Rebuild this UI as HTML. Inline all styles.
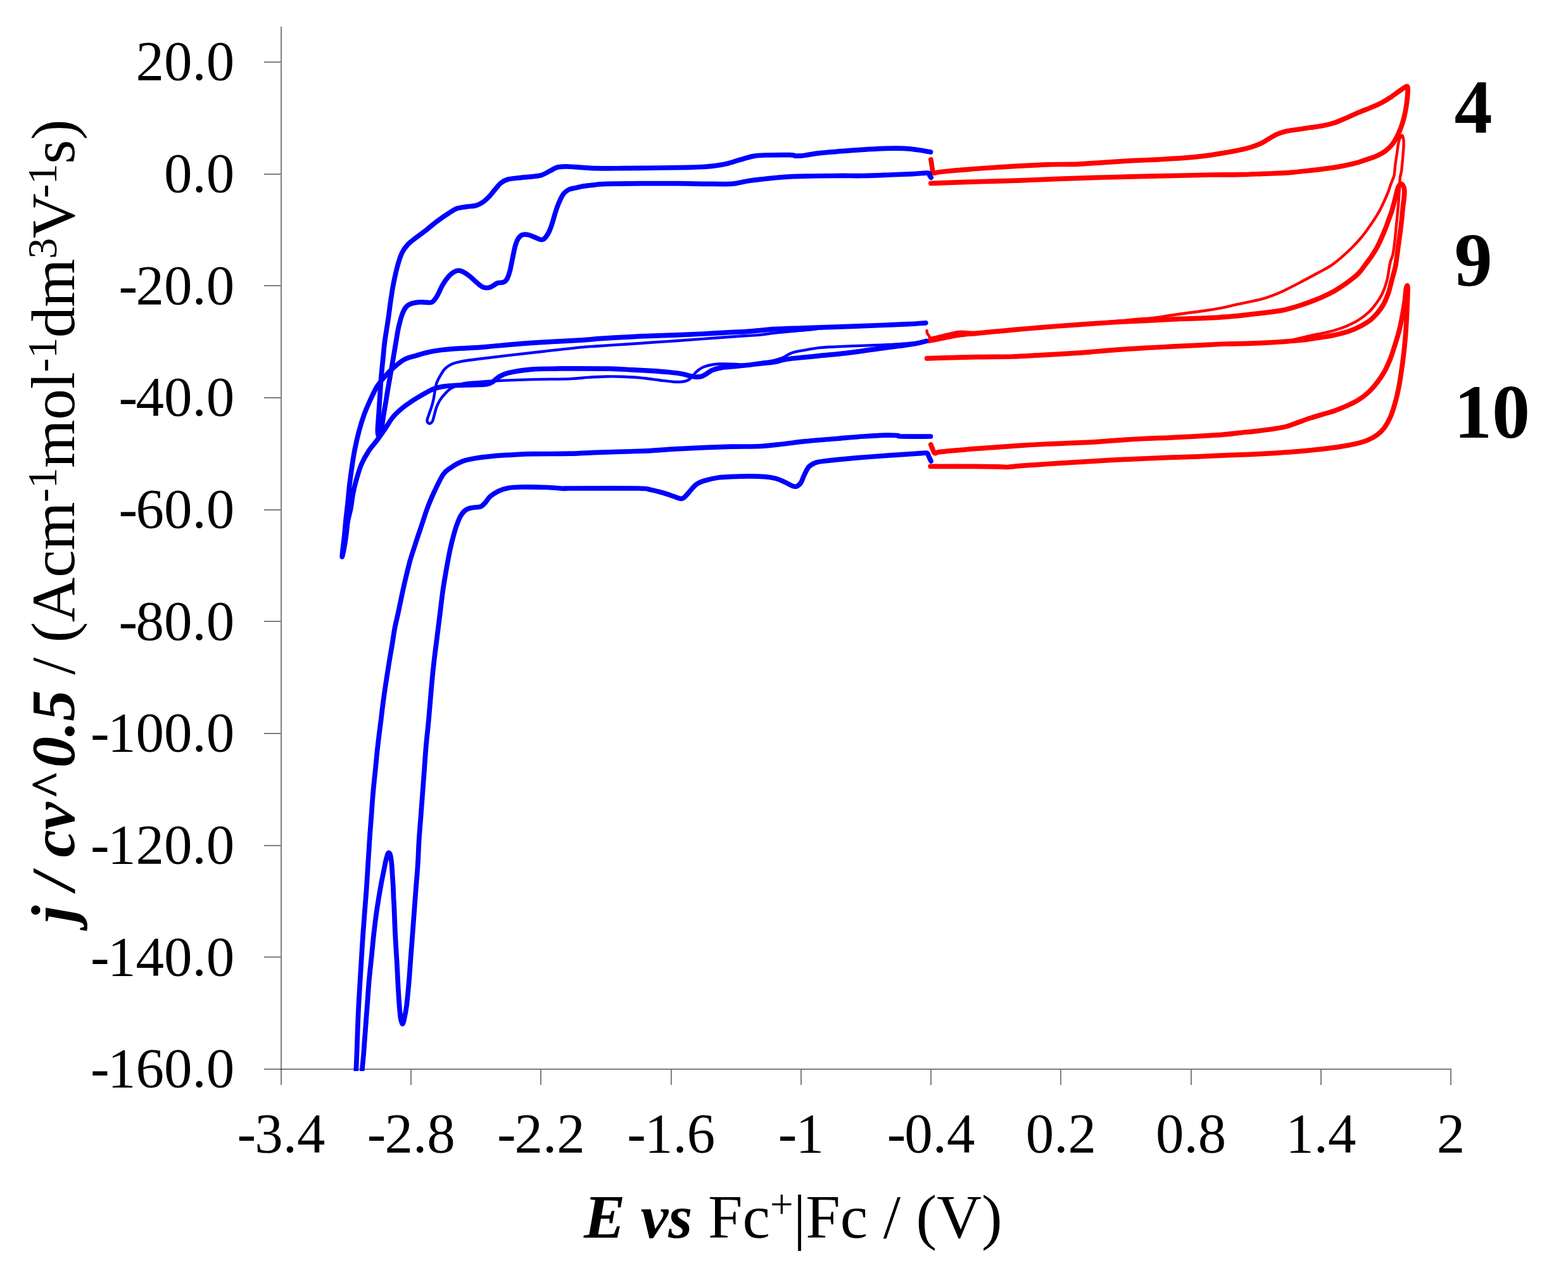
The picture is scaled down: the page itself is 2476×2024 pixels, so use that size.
<!DOCTYPE html><html><head><meta charset="utf-8"><title>Cyclic voltammograms</title>
<style>html,body{margin:0;padding:0;background:#fff;}body{width:2476px;height:2024px;overflow:hidden;}svg{display:block;}text{font-family:"Liberation Serif",serif;fill:#000;}</style></head><body>
<svg width="2476" height="2024" viewBox="0 0 2476 2024">
<rect width="2476" height="2024" fill="#fff"/>
<g fill="#000" fill-opacity="0.5" shape-rendering="crispEdges">
<rect x="443" y="42" width="2" height="1671"/>
<rect x="417" y="1687" width="1875" height="2"/>
<rect x="417" y="97" width="26" height="2"/>
<rect x="417" y="274" width="26" height="2"/>
<rect x="417" y="450" width="26" height="2"/>
<rect x="417" y="627" width="26" height="2"/>
<rect x="417" y="804" width="26" height="2"/>
<rect x="417" y="980" width="26" height="2"/>
<rect x="417" y="1157" width="26" height="2"/>
<rect x="417" y="1334" width="26" height="2"/>
<rect x="417" y="1510" width="26" height="2"/>
<rect x="648" y="1689" width="2" height="24"/>
<rect x="853" y="1689" width="2" height="24"/>
<rect x="1059" y="1689" width="2" height="24"/>
<rect x="1264" y="1689" width="2" height="24"/>
<rect x="1469" y="1689" width="2" height="24"/>
<rect x="1674" y="1689" width="2" height="24"/>
<rect x="1880" y="1689" width="2" height="24"/>
<rect x="2085" y="1689" width="2" height="24"/>
<rect x="2290" y="1689" width="2" height="24"/>
</g>
<defs><clipPath id="plot"><rect x="380" y="0" width="2000" height="1691"/></clipPath></defs>
<g fill="none" stroke-linejoin="round" stroke-linecap="round" clip-path="url(#plot)">
<path d="M1469.9,252.0 C1470.2,253.4 1470.9,257.4 1471.3,260.5 C1471.8,263.6 1472.3,268.3 1472.7,270.4 C1473.2,272.5 1472.2,273.0 1474.2,273.2 C1476.2,273.4 1475.9,272.5 1484.7,271.5 C1493.6,270.6 1513.0,268.7 1527.1,267.6 C1541.2,266.4 1555.4,265.4 1569.5,264.5 C1583.6,263.5 1597.7,262.7 1611.9,261.9 C1626.0,261.1 1639.2,260.3 1654.2,259.8 C1669.3,259.3 1687.3,259.7 1702.4,259.1 C1717.5,258.5 1730.6,257.2 1744.7,256.3 C1758.9,255.4 1773.0,254.5 1787.1,253.7 C1801.2,253.0 1815.4,252.5 1829.5,251.8 C1843.6,251.0 1860.1,250.1 1871.9,249.2 C1883.6,248.3 1890.7,247.6 1900.1,246.4 C1909.5,245.2 1919.0,243.7 1928.4,242.1 C1937.8,240.6 1948.7,238.7 1956.5,237.1 C1964.3,235.5 1969.7,234.1 1975.3,232.4 C1981.0,230.7 1985.7,229.0 1990.4,226.8 C1995.1,224.6 1999.2,221.7 2003.6,219.2 C2008.0,216.7 2012.1,213.7 2016.8,211.7 C2021.5,209.7 2026.2,208.2 2031.8,207.0 C2037.5,205.7 2044.4,205.1 2050.7,204.2 C2056.9,203.2 2063.2,202.3 2069.5,201.3 C2075.8,200.4 2082.0,199.8 2088.3,198.5 C2094.6,197.3 2100.9,195.8 2107.2,193.8 C2113.4,191.8 2119.7,188.9 2126.0,186.3 C2132.3,183.6 2138.5,180.5 2144.8,177.8 C2151.1,175.1 2157.4,172.9 2163.7,170.3 C2169.9,167.6 2176.8,164.8 2182.5,161.8 C2188.1,158.8 2192.8,155.5 2197.6,152.4 C2202.3,149.2 2206.8,145.6 2210.7,143.0 C2214.7,140.3 2219.1,136.7 2221.1,136.4 C2223.1,136.1 2222.8,137.6 2223.0,141.1 C2223.1,144.5 2222.7,151.3 2222.0,157.1 C2221.4,162.9 2220.5,169.6 2219.2,175.9 C2218.0,182.2 2216.4,188.8 2214.5,194.7 C2212.6,200.7 2210.4,206.4 2207.9,211.7 C2205.4,217.0 2202.7,222.4 2199.4,226.8 C2196.1,231.2 2192.5,234.8 2188.1,238.1 C2183.7,241.4 2178.7,244.0 2173.1,246.5 C2167.4,249.0 2160.5,251.1 2154.2,253.1 C2148.0,255.2 2143.3,256.9 2135.4,258.8 C2127.6,260.7 2118.1,262.7 2107.2,264.4 C2096.2,266.2 2082.0,267.7 2069.5,269.1 C2056.9,270.5 2044.4,272.0 2031.8,272.9 C2019.3,273.8 2006.7,273.9 1994.2,274.4 C1981.6,274.9 1969.8,275.5 1956.5,275.7 C1943.2,276.0 1928.3,275.8 1914.2,276.0 C1900.1,276.3 1886.0,276.7 1871.9,277.0 C1857.7,277.3 1843.6,277.6 1829.5,277.9 C1815.4,278.2 1801.2,278.5 1787.1,278.9 C1773.0,279.2 1758.9,279.6 1744.7,280.0 C1730.6,280.4 1717.5,280.9 1702.4,281.4 C1687.3,281.9 1669.3,282.5 1654.2,283.1 C1639.2,283.7 1626.0,284.3 1611.9,284.8 C1597.7,285.3 1583.6,285.8 1569.5,286.2 C1555.4,286.6 1541.2,286.9 1527.1,287.3 C1513.0,287.8 1494.3,288.4 1484.7,288.8 C1475.2,289.1 1472.4,289.3 1469.9,289.5" stroke="#ff0000" stroke-width="7.7"/>
<path d="M1463.6,522.0 C1463.7,522.7 1463.7,524.9 1464.3,526.3 C1464.9,527.7 1466.4,529.1 1467.1,530.5 C1467.8,531.9 1467.9,534.2 1468.5,534.7 C1469.1,535.3 1466.7,534.6 1470.6,533.6 C1474.5,532.6 1485.2,530.2 1491.8,528.7 C1498.4,527.1 1505.5,525.3 1510.2,524.4 C1514.9,523.6 1514.9,523.7 1520.1,523.7 C1525.2,523.8 1530.6,525.2 1541.2,524.9 C1551.8,524.5 1569.5,522.9 1583.6,521.8 C1597.7,520.6 1611.9,519.3 1626.0,518.1 C1640.1,516.9 1652.3,516.0 1668.4,514.7 C1684.4,513.4 1706.3,511.8 1722.4,510.5 C1738.4,509.2 1753.0,508.0 1764.7,507.0 C1776.5,505.9 1783.6,505.0 1793.0,504.2 C1802.4,503.3 1811.8,503.1 1821.2,502.0 C1830.7,501.0 1840.1,499.2 1849.5,497.8 C1858.9,496.4 1868.3,495.1 1877.7,493.8 C1887.2,492.5 1896.6,491.5 1906.0,490.0 C1915.4,488.6 1926.0,486.7 1934.2,485.1 C1942.5,483.4 1945.4,482.4 1955.4,480.1 C1965.4,477.9 1983.0,474.7 1994.2,471.6 C2005.3,468.4 2013.0,465.3 2022.4,461.2 C2031.8,457.1 2041.2,451.9 2050.7,447.1 C2060.1,442.2 2070.3,436.7 2078.9,432.0 C2087.5,427.3 2095.3,423.5 2102.4,418.8 C2109.4,414.1 2115.7,408.4 2121.2,403.7 C2126.7,399.0 2130.9,394.9 2135.3,390.5 C2139.7,386.1 2143.8,381.7 2147.6,377.3 C2151.3,373.0 2154.8,368.4 2157.9,364.2 C2161.1,359.9 2164.0,355.4 2166.4,351.9 C2168.8,348.5 2170.2,346.4 2172.1,343.4 C2173.9,340.5 2175.8,337.5 2177.7,334.0 C2179.6,330.6 2181.5,326.7 2183.4,322.7 C2185.2,318.8 2187.4,314.1 2189.0,310.5 C2190.6,306.9 2191.7,304.1 2192.8,301.1 C2193.9,298.1 2194.6,295.4 2195.6,292.6 C2196.6,289.8 2197.9,286.9 2198.9,284.1 C2199.9,281.3 2201.0,279.6 2201.7,275.6 C2202.4,271.7 2202.5,266.3 2203.2,260.7 C2203.9,255.0 2205.1,248.1 2206.0,241.8 C2207.0,235.5 2207.6,227.7 2208.9,223.0 C2210.1,218.3 2212.3,213.9 2213.6,213.6 C2214.8,213.3 2215.9,218.0 2216.4,221.1 C2216.9,224.2 2216.6,227.4 2216.4,232.4 C2216.1,237.4 2215.4,245.0 2214.9,251.2 C2214.3,257.5 2213.7,265.1 2213.0,270.1 C2212.3,275.1 2211.1,277.4 2210.7,281.3 C2210.2,285.2 2210.4,289.1 2210.2,293.5 C2210.0,297.9 2209.6,302.2 2209.2,307.7 C2208.9,313.2 2208.4,320.2 2207.8,326.5 C2207.3,332.8 2206.6,339.1 2206.0,345.3 C2205.3,351.6 2204.7,357.9 2204.1,364.2 C2203.4,370.4 2203.0,376.7 2202.2,383.0 C2201.4,389.3 2200.5,396.8 2199.4,401.8 C2198.3,406.8 2196.5,409.7 2195.6,413.1 C2194.7,416.6 2194.6,417.5 2193.7,422.5 C2192.8,427.6 2191.9,436.4 2190.0,443.3 C2188.1,450.2 2185.3,458.1 2182.5,464.0 C2179.7,470.0 2176.5,474.4 2173.1,479.1 C2169.6,483.8 2166.5,487.9 2161.8,492.3 C2157.1,496.7 2150.8,501.7 2144.8,505.5 C2138.9,509.2 2132.3,512.2 2126.0,514.9 C2119.7,517.5 2113.4,519.6 2107.2,521.5 C2100.9,523.4 2094.6,524.8 2088.3,526.2 C2082.0,527.6 2078.9,527.9 2069.5,529.9 C2060.1,532.0 2041.2,536.7 2031.8,538.4 C2022.4,540.1 2022.4,539.7 2013.0,540.3 C2003.6,540.9 1988.5,541.7 1975.3,542.2 C1962.2,542.6 1948.1,542.5 1934.2,543.0 C1920.3,543.5 1906.0,544.4 1891.9,545.1 C1877.7,545.8 1863.6,546.5 1849.5,547.2 C1835.4,547.9 1821.2,548.5 1807.1,549.4 C1793.0,550.2 1778.9,551.1 1764.7,552.2 C1750.6,553.2 1733.2,554.8 1722.4,555.7 C1711.6,556.6 1713.7,556.5 1700.0,557.3 C1686.3,558.2 1657.2,559.9 1640.1,560.9 C1623.1,561.8 1614.2,562.5 1597.7,563.0 C1581.3,563.5 1560.1,563.3 1541.2,563.7 C1522.4,564.1 1497.7,564.8 1484.7,565.1 C1471.8,565.5 1467.1,565.7 1463.6,565.8" stroke="#ff0000" stroke-width="4.4"/>
<path d="M1466.4,538.3 C1469.4,537.7 1477.0,536.3 1484.7,534.7 C1492.5,533.2 1503.6,530.5 1513.0,529.1 C1522.4,527.7 1529.5,527.4 1541.2,526.3 C1553.0,525.1 1569.5,523.6 1583.6,522.3 C1597.7,521.0 1611.9,519.7 1626.0,518.5 C1640.1,517.3 1652.3,516.2 1668.4,515.0 C1684.4,513.8 1706.3,512.3 1722.4,511.2 C1738.4,510.1 1750.6,509.2 1764.7,508.4 C1778.9,507.6 1795.3,506.9 1807.1,506.3 C1818.9,505.7 1826.0,505.3 1835.4,504.9 C1844.8,504.4 1854.2,503.8 1863.6,503.4 C1873.0,503.1 1882.4,503.1 1891.9,502.7 C1901.3,502.4 1910.7,501.9 1920.1,501.3 C1929.5,500.7 1938.4,500.2 1948.4,499.2 C1958.3,498.3 1967.7,497.1 1980.0,495.7 C1992.3,494.2 2010.6,492.5 2022.4,490.4 C2034.2,488.3 2042.8,485.2 2050.7,482.9 C2058.5,480.5 2063.2,478.6 2069.5,476.3 C2075.8,473.9 2082.0,471.6 2088.3,468.7 C2094.6,465.9 2100.9,462.9 2107.2,459.3 C2113.4,455.7 2119.7,451.6 2126.0,447.1 C2132.3,442.5 2139.8,436.9 2144.8,432.0 C2149.8,427.1 2152.4,422.6 2156.0,417.8 C2159.6,413.1 2163.3,408.4 2166.4,403.7 C2169.5,399.0 2172.2,394.6 2174.9,389.6 C2177.5,384.6 2180.1,378.9 2182.4,373.6 C2184.8,368.2 2187.1,362.4 2189.0,357.6 C2190.9,352.7 2192.3,348.3 2193.7,344.4 C2195.1,340.5 2196.2,338.0 2197.5,334.0 C2198.7,330.1 2200.1,324.9 2201.2,320.8 C2202.3,316.8 2203.2,313.0 2204.1,309.5 C2204.9,306.1 2205.6,302.8 2206.4,300.1 C2207.2,297.5 2207.8,295.2 2208.8,293.5 C2209.8,291.9 2211.3,290.1 2212.5,290.2 C2213.8,290.4 2215.4,292.5 2216.3,294.5 C2217.2,296.4 2217.6,298.6 2217.7,302.0 C2217.8,305.5 2217.2,311.1 2216.8,315.2 C2216.4,319.3 2215.8,322.3 2215.4,326.5 C2214.9,330.7 2214.4,335.9 2214.0,340.6 C2213.5,345.3 2213.1,350.0 2212.5,354.7 C2212.0,359.5 2211.3,364.2 2210.7,368.9 C2210.0,373.6 2209.4,378.3 2208.8,383.0 C2208.1,387.7 2207.5,392.4 2206.9,397.1 C2206.3,401.8 2205.6,407.0 2205.0,411.2 C2204.4,415.5 2204.4,417.2 2203.1,422.5 C2201.9,427.9 2199.4,436.4 2197.6,443.3 C2195.7,450.2 2194.1,457.8 2191.9,464.0 C2189.7,470.3 2187.2,476.0 2184.4,481.0 C2181.5,486.0 2178.4,490.1 2175.0,494.2 C2171.5,498.2 2168.0,502.0 2163.7,505.5 C2159.3,508.9 2153.9,512.1 2148.6,514.9 C2143.3,517.7 2138.5,520.1 2131.6,522.4 C2124.7,524.8 2115.9,527.1 2107.2,529.0 C2098.4,530.9 2088.3,532.3 2078.9,533.7 C2069.5,535.1 2061.6,536.4 2050.7,537.5 C2039.7,538.6 2025.5,539.5 2013.0,540.3 C2000.4,541.1 1988.5,541.7 1975.3,542.2 C1962.2,542.6 1948.1,542.5 1934.2,543.0 C1920.3,543.5 1906.0,544.4 1891.9,545.1 C1877.7,545.8 1863.6,546.5 1849.5,547.2 C1835.4,547.9 1821.2,548.5 1807.1,549.4 C1793.0,550.2 1778.9,551.1 1764.7,552.2 C1750.6,553.2 1733.2,554.8 1722.4,555.7 C1711.6,556.6 1713.7,556.5 1700.0,557.3 C1686.3,558.2 1657.2,559.9 1640.1,560.9 C1623.1,561.8 1614.2,562.5 1597.7,563.0 C1581.3,563.5 1560.1,563.3 1541.2,563.7 C1522.4,564.1 1497.7,564.8 1484.7,565.1 C1471.8,565.5 1467.1,565.7 1463.6,565.8" stroke="#ff0000" stroke-width="7.7"/>
<path d="M1469.9,701.9 C1470.4,703.1 1471.7,706.9 1472.7,709.2 C1473.8,711.5 1474.3,714.9 1476.3,715.6 C1478.3,716.3 1476.3,714.5 1484.7,713.4 C1493.2,712.4 1513.0,710.7 1527.1,709.5 C1541.2,708.3 1555.4,707.4 1569.5,706.4 C1583.6,705.3 1597.7,704.2 1611.9,703.3 C1626.0,702.4 1635.8,701.9 1654.2,701.0 C1672.7,700.2 1704.0,699.2 1722.4,698.2 C1740.8,697.2 1750.6,696.0 1764.7,695.1 C1778.9,694.1 1793.0,693.2 1807.1,692.5 C1821.2,691.8 1835.4,691.5 1849.5,690.8 C1863.6,690.2 1877.7,689.6 1891.9,688.7 C1906.0,687.9 1923.5,686.8 1934.2,685.9 C1945.0,685.0 1948.1,684.3 1956.5,683.4 C1964.9,682.5 1975.3,681.7 1984.7,680.6 C1994.2,679.5 2005.1,678.1 2013.0,676.8 C2020.8,675.6 2025.5,674.8 2031.8,673.1 C2038.1,671.3 2044.4,668.7 2050.7,666.5 C2056.9,664.3 2063.2,661.9 2069.5,659.9 C2075.8,657.8 2082.0,656.1 2088.3,654.2 C2094.6,652.4 2100.9,650.8 2107.2,648.6 C2113.4,646.4 2119.7,643.9 2126.0,641.1 C2132.3,638.2 2138.9,635.4 2144.8,631.6 C2150.8,627.9 2156.7,623.2 2161.8,618.5 C2166.8,613.7 2170.9,608.7 2175.0,603.4 C2179.0,598.1 2182.8,592.7 2186.3,586.4 C2189.7,580.2 2192.8,572.9 2195.7,565.7 C2198.5,558.5 2200.8,550.7 2203.2,543.1 C2205.6,535.6 2207.9,528.1 2209.8,520.5 C2211.7,513.0 2213.1,505.5 2214.5,497.9 C2215.9,490.4 2217.3,482.2 2218.3,475.3 C2219.2,468.4 2219.5,460.6 2220.2,456.5 C2220.8,452.4 2221.6,450.8 2222.0,450.8 C2222.5,450.8 2222.9,452.4 2223.0,456.5 C2223.0,460.6 2222.7,467.5 2222.4,475.3 C2222.1,483.2 2221.6,494.2 2221.1,503.6 C2220.6,513.0 2220.0,522.4 2219.2,531.8 C2218.4,541.2 2217.5,550.7 2216.4,560.1 C2215.3,569.5 2213.9,579.8 2212.6,588.3 C2211.4,596.8 2210.4,603.1 2208.9,610.9 C2207.3,618.8 2205.4,627.6 2203.2,635.4 C2201.0,643.3 2198.5,651.4 2195.7,658.0 C2192.8,664.6 2189.7,670.2 2186.3,675.0 C2182.8,679.7 2179.3,683.0 2175.0,686.3 C2170.6,689.5 2165.5,692.4 2159.9,694.7 C2154.2,697.1 2148.3,698.7 2141.1,700.4 C2133.8,702.1 2125.4,703.7 2116.6,705.1 C2107.8,706.5 2099.3,707.6 2088.3,708.9 C2077.3,710.1 2063.2,711.5 2050.7,712.6 C2038.1,713.7 2025.5,714.7 2013.0,715.4 C2000.4,716.2 1988.5,716.8 1975.3,717.3 C1962.2,717.9 1948.1,718.2 1934.2,718.8 C1920.3,719.4 1906.0,720.2 1891.9,720.8 C1877.7,721.4 1863.6,721.7 1849.5,722.2 C1835.4,722.7 1821.2,723.4 1807.1,724.0 C1793.0,724.7 1778.9,725.2 1764.7,725.9 C1750.6,726.6 1733.2,727.6 1722.4,728.3 C1711.6,728.9 1711.4,729.0 1700.0,729.7 C1688.6,730.4 1668.9,731.6 1654.2,732.5 C1639.5,733.5 1622.5,734.5 1611.9,735.3 C1601.3,736.2 1596.6,737.2 1590.7,737.5 C1584.8,737.7 1587.1,736.9 1576.6,736.8 C1566.0,736.6 1545.0,736.4 1527.1,736.3 C1509.2,736.3 1478.9,736.3 1469.2,736.3" stroke="#ff0000" stroke-width="7.7"/>
<path d="M1470.3,280.3 C1469.9,279.8 1469.0,278.6 1468.1,277.5 C1467.3,276.3 1469.8,273.7 1465.3,273.2 C1460.8,272.7 1451.2,274.2 1441.3,274.6 C1431.4,275.1 1418.9,275.6 1406.0,276.0 C1393.0,276.5 1377.7,277.2 1363.6,277.5 C1349.5,277.7 1336.5,277.3 1321.2,277.5 C1305.9,277.6 1285.9,277.8 1271.8,278.2 C1257.7,278.5 1248.3,278.8 1236.5,279.6 C1224.7,280.4 1210.2,282.1 1201.2,283.1 C1192.2,284.1 1188.0,284.6 1182.5,285.5 C1177.0,286.3 1173.1,287.5 1168.4,288.3 C1163.7,289.1 1162.7,290.0 1154.2,290.4 C1145.8,290.7 1131.6,290.5 1117.5,290.4 C1103.4,290.3 1086.9,289.8 1069.5,289.7 C1052.1,289.6 1031.8,289.6 1013.0,289.7 C994.2,289.8 968.7,290.0 956.5,290.4 C944.3,290.7 945.4,291.2 939.5,291.8 C933.7,292.4 926.4,293.1 921.2,293.9 C916.0,294.8 912.3,295.9 908.5,296.8 C904.7,297.6 901.6,297.6 898.5,299.1 C895.5,300.6 892.6,302.5 890.1,305.7 C887.5,308.8 885.5,313.4 883.5,317.9 C881.4,322.5 879.7,327.3 877.8,333.0 C875.9,338.6 874.0,346.2 872.2,351.8 C870.3,357.5 868.7,362.7 866.5,366.9 C864.3,371.1 861.2,375.4 859.0,377.3 C856.8,379.1 855.8,378.7 853.3,378.2 C850.8,377.7 847.1,375.7 843.9,374.4 C840.8,373.2 837.6,371.3 834.5,370.7 C831.4,370.0 827.8,369.7 825.1,370.7 C822.4,371.6 820.4,373.5 818.5,376.3 C816.6,379.1 815.2,382.9 813.8,387.6 C812.4,392.3 811.4,398.0 810.0,404.6 C808.6,411.1 806.9,421.2 805.3,427.2 C803.7,433.1 802.3,437.3 800.6,440.3 C798.9,443.4 797.5,444.5 795.0,445.6 C792.4,446.7 788.7,445.8 785.5,446.9 C782.4,448.1 778.9,451.3 776.1,452.6 C773.3,453.8 771.1,454.5 768.6,454.5 C766.1,454.5 763.9,454.1 761.1,452.6 C758.2,451.0 754.8,447.7 751.6,445.0 C748.5,442.4 745.7,439.2 742.2,436.6 C738.8,433.9 734.1,430.6 730.9,429.0 C727.8,427.5 725.9,427.0 723.4,427.2 C720.9,427.3 718.4,428.4 715.9,430.0 C713.3,431.6 711.1,433.3 708.3,436.6 C705.5,439.9 702.0,444.4 698.9,449.8 C695.8,455.1 692.3,464.0 689.5,468.6 C686.7,473.1 684.8,475.6 682.0,477.1 C679.1,478.5 676.0,477.4 672.5,477.4 C669.1,477.4 665.3,476.7 661.2,477.1 C657.2,477.5 651.5,478.5 648.1,479.9 C644.6,481.3 642.7,482.7 640.5,485.5 C638.3,488.4 636.8,491.5 634.9,496.8 C633.0,502.2 631.0,509.6 629.2,517.6 C627.5,525.5 626.1,535.3 624.5,544.5 C623.0,553.7 621.5,562.7 619.8,572.7 C618.1,582.8 615.9,594.7 614.2,604.7 C612.4,614.8 610.9,624.5 609.5,633.0 C608.0,641.5 606.9,647.7 605.7,655.6 C604.4,663.4 603.2,674.6 601.9,680.1 C600.7,685.6 599.1,688.5 598.2,688.5 C597.2,688.5 596.3,686.2 596.3,680.1 C596.3,674.0 597.5,661.2 598.2,651.8 C598.8,642.4 599.4,633.0 600.0,623.6 C600.7,614.2 601.1,604.7 601.9,595.3 C602.7,585.9 603.8,576.5 604.7,567.1 C605.7,557.7 606.2,549.6 607.6,538.8 C609.0,528.1 611.7,513.3 613.2,502.5 C614.8,491.7 615.6,483.7 617.0,474.2 C618.4,464.8 619.8,455.4 621.7,446.0 C623.6,436.6 626.1,425.6 628.3,417.7 C630.5,409.9 632.2,404.2 634.9,398.9 C637.5,393.6 640.8,389.5 644.3,385.7 C647.7,382.0 651.2,379.8 655.6,376.3 C660.0,372.9 665.0,369.4 670.7,365.0 C676.3,360.6 683.2,354.7 689.5,349.9 C695.8,345.2 703.0,340.2 708.3,336.8 C713.7,333.3 716.8,331.0 721.5,329.2 C726.2,327.5 731.6,327.2 736.6,326.4 C741.6,325.6 747.2,325.8 751.6,324.5 C756.0,323.3 759.5,321.2 762.9,318.9 C766.4,316.5 769.2,313.7 772.4,310.4 C775.5,307.1 778.6,302.7 781.8,299.1 C784.9,295.5 787.7,291.4 791.2,288.7 C794.6,286.1 797.5,284.4 802.5,283.1 C807.5,281.7 815.0,281.4 821.3,280.6 C827.6,279.9 834.5,279.4 840.2,278.8 C845.8,278.1 850.5,278.0 855.2,276.5 C859.9,275.0 864.3,271.9 868.4,269.9 C872.5,267.9 875.6,265.4 879.7,264.3 C883.8,263.1 888.2,263.0 892.9,262.9 C897.6,262.8 900.2,263.2 907.9,263.7 C915.7,264.1 926.7,265.3 939.5,265.7 C952.3,266.0 967.8,265.8 984.7,265.7 C1001.7,265.6 1024.3,265.2 1041.2,265.0 C1058.2,264.7 1074.7,264.5 1086.4,264.3 C1098.2,264.0 1105.3,263.6 1111.9,263.3 C1118.5,262.9 1120.1,262.9 1126.0,262.1 C1131.9,261.4 1140.1,260.3 1147.2,258.6 C1154.2,257.0 1161.3,254.3 1168.4,252.3 C1175.4,250.3 1182.9,247.8 1189.5,246.6 C1196.2,245.4 1198.5,245.3 1208.2,245.0 C1218.0,244.7 1239.8,244.5 1247.8,244.7 C1255.8,244.9 1253.0,245.9 1256.3,246.1 C1259.6,246.3 1261.5,246.4 1267.6,245.7 C1273.7,245.0 1284.0,242.9 1293.0,241.9 C1301.9,240.8 1311.8,240.1 1321.2,239.3 C1330.7,238.5 1340.1,237.9 1349.5,237.2 C1358.9,236.5 1369.5,235.8 1377.7,235.4 C1386.0,234.9 1390.7,234.5 1398.9,234.4 C1407.2,234.2 1418.9,234.0 1427.2,234.4 C1435.4,234.7 1441.3,235.6 1448.4,236.5 C1455.4,237.4 1466.0,239.4 1469.5,240.0" stroke="#0000ff" stroke-width="7.7"/>
<path d="M1462.5,538.5 C1460.1,538.9 1455.4,539.8 1448.4,540.6 C1441.3,541.4 1429.5,542.5 1420.1,543.2 C1410.7,543.8 1401.3,544.2 1391.9,544.6 C1382.4,545.0 1375.4,545.1 1363.6,545.6 C1351.8,546.0 1333.0,546.8 1321.2,547.4 C1309.5,548.0 1301.2,548.2 1293.0,549.1 C1284.8,550.0 1278.4,551.5 1271.8,552.6 C1265.2,553.8 1258.2,554.9 1253.4,556.2 C1248.7,557.5 1246.4,559.0 1243.6,560.4 C1240.7,561.8 1240.0,563.2 1236.5,564.6 C1233.0,566.0 1228.3,567.6 1222.4,568.9 C1216.5,570.2 1207.8,571.2 1201.2,572.4 C1194.5,573.6 1189.1,575.7 1182.5,576.2 C1175.8,576.6 1168.4,575.3 1161.3,575.0 C1154.2,574.7 1146.0,574.4 1140.1,574.5 C1134.2,574.5 1130.7,574.7 1126.0,575.5 C1121.3,576.2 1115.6,577.6 1111.9,579.0 C1108.1,580.4 1105.7,582.3 1103.4,583.9 C1101.0,585.6 1099.6,586.9 1097.7,588.9 C1095.9,590.9 1094.2,593.9 1092.1,595.9 C1090.0,597.9 1087.6,599.7 1085.0,600.9 C1082.4,602.0 1080.3,602.4 1076.6,602.7 C1072.8,603.0 1068.3,603.1 1062.4,602.7 C1056.5,602.3 1049.5,601.2 1041.2,600.2 C1033.0,599.2 1022.4,597.5 1013.0,596.6 C1003.6,595.7 994.2,595.2 984.7,594.8 C975.3,594.4 965.9,594.3 956.5,594.5 C947.1,594.7 937.7,595.3 928.2,595.9 C918.8,596.5 914.7,597.5 900.0,598.1 C885.3,598.6 858.9,598.6 840.2,599.1 C821.4,599.6 803.1,600.2 787.4,601.0 C771.7,601.8 756.0,602.9 746.0,603.8 C735.9,604.7 732.8,605.1 727.2,606.6 C721.5,608.2 716.2,610.7 712.1,613.2 C708.0,615.7 705.5,618.7 702.7,621.7 C699.8,624.7 697.3,627.7 695.1,631.1 C692.9,634.6 691.1,638.3 689.5,642.4 C687.9,646.5 686.8,651.8 685.7,655.6 C684.6,659.4 684.2,662.8 682.9,665.0 C681.6,667.2 679.6,668.9 678.2,668.8 C676.8,668.6 674.4,666.9 674.4,664.1 C674.4,661.2 676.9,655.8 678.2,651.8 C679.4,647.9 680.9,644.3 682.0,640.5 C683.1,636.8 684.0,633.0 684.8,629.2 C685.6,625.5 685.9,622.0 686.7,617.9 C687.5,613.8 688.1,608.8 689.5,604.7 C690.9,600.7 692.9,597.2 695.1,593.4 C697.3,589.7 699.5,585.3 702.7,582.1 C705.8,579.0 709.9,576.5 714.0,574.6 C718.1,572.7 720.3,572.2 727.2,570.8 C734.1,569.5 742.8,568.3 755.4,566.7 C768.0,565.1 785.2,563.1 802.5,561.1 C819.7,559.0 839.4,556.8 859.0,554.7 C878.6,552.5 906.1,549.4 920.0,548.1 C933.9,546.7 931.6,547.2 942.4,546.5 C953.2,545.8 970.6,544.6 984.7,543.7 C998.9,542.7 1013.0,541.8 1027.1,540.8 C1041.2,539.9 1055.4,539.0 1069.5,538.0 C1083.6,537.0 1097.7,536.0 1111.9,534.9 C1126.0,533.9 1142.9,532.5 1154.2,531.7 C1165.6,530.9 1172.2,530.5 1180.0,530.0 C1187.8,529.5 1194.1,529.3 1201.2,528.6 C1208.2,527.9 1214.1,526.7 1222.4,525.8 C1230.6,524.8 1241.2,523.8 1250.6,523.0 C1260.0,522.1 1269.5,521.5 1278.9,520.6 C1288.3,519.6 1295.3,518.2 1307.1,517.3 C1318.9,516.4 1335.4,515.8 1349.5,515.2 C1363.6,514.6 1377.7,514.1 1391.9,513.5 C1406.0,512.9 1422.6,512.3 1434.2,511.7 C1445.9,511.1 1457.2,510.1 1461.8,509.8" stroke="#0000ff" stroke-width="4.4"/>
<path d="M1462.5,538.5 C1460.1,539.1 1455.4,540.7 1448.4,542.0 C1441.3,543.3 1431.9,544.6 1420.1,546.3 C1408.3,547.9 1391.9,550.0 1377.7,551.9 C1363.6,553.8 1349.5,555.9 1335.4,557.6 C1321.2,559.2 1307.1,560.4 1293.0,561.8 C1278.9,563.2 1260.0,565.0 1250.6,566.0 C1241.2,567.1 1241.2,567.2 1236.5,568.2 C1231.8,569.1 1228.3,570.8 1222.4,571.7 C1216.5,572.6 1207.8,573.1 1201.2,573.8 C1194.5,574.6 1189.1,575.4 1182.5,576.2 C1175.8,576.9 1168.4,577.6 1161.3,578.3 C1154.2,579.0 1146.0,579.5 1140.1,580.4 C1134.2,581.3 1129.8,582.5 1126.0,583.9 C1122.2,585.3 1120.3,587.2 1117.5,588.9 C1114.7,590.5 1111.9,592.8 1109.0,593.8 C1106.2,594.9 1103.6,595.2 1100.6,595.2 C1097.5,595.2 1094.7,594.6 1090.7,593.8 C1086.7,593.0 1082.4,591.3 1076.6,590.3 C1070.7,589.2 1063.6,588.3 1055.4,587.5 C1047.1,586.6 1036.5,585.9 1027.1,585.3 C1017.7,584.8 1009.5,584.5 998.9,583.9 C988.3,583.4 980.0,582.4 963.6,582.1 C947.1,581.7 914.3,581.8 900.0,581.8 C885.7,581.8 887.8,581.9 877.8,582.1 C867.8,582.4 852.7,582.0 840.2,583.1 C827.6,584.2 811.3,586.7 802.5,588.7 C793.7,590.8 791.5,593.0 787.4,595.3 C783.3,597.7 781.1,601.0 778.0,602.9 C774.9,604.7 773.9,605.8 768.6,606.6 C763.3,607.4 754.5,607.3 746.0,607.6 C737.5,607.9 725.6,608.0 717.7,608.5 C709.9,609.0 704.6,609.5 698.9,610.4 C693.3,611.3 689.8,611.7 683.8,614.2 C677.9,616.7 669.1,622.0 663.1,625.5 C657.2,628.9 653.1,631.4 648.1,634.9 C643.0,638.3 637.7,642.1 633.0,646.2 C628.3,650.3 623.9,654.3 619.8,659.4 C615.7,664.4 612.6,670.3 608.5,676.3 C604.4,682.3 599.7,689.2 595.3,695.1 C590.9,701.1 586.2,705.8 582.1,712.1 C578.1,718.4 574.0,725.6 570.8,732.8 C567.7,740.0 565.5,747.9 563.3,755.4 C561.1,762.9 559.2,770.2 557.7,778.0 C556.1,785.9 555.3,795.1 553.9,802.5 C552.5,809.9 550.6,815.2 549.3,822.6 C548.0,830.0 547.3,839.9 546.3,847.1 C545.3,854.3 544.3,860.6 543.3,865.9 C542.3,871.2 540.6,879.1 540.3,879.1 C539.9,879.1 540.8,871.2 541.4,865.9 C542.0,860.6 542.9,854.3 543.7,847.1 C544.4,839.9 545.0,831.6 545.9,822.6 C546.8,813.6 548.2,802.7 549.2,793.1 C550.2,783.4 550.9,774.2 552.0,764.8 C553.1,755.4 554.4,746.0 555.8,736.6 C557.2,727.2 558.6,717.7 560.5,708.3 C562.4,698.9 564.7,688.9 567.1,680.1 C569.4,671.3 571.8,663.4 574.6,655.6 C577.4,647.7 580.6,640.5 584.0,633.0 C587.5,625.5 591.2,617.0 595.3,610.4 C599.4,603.8 604.1,598.5 608.5,593.4 C612.9,588.4 616.6,584.6 621.7,580.3 C626.7,575.9 632.8,570.4 638.8,567.3 C644.8,564.1 651.4,563.1 657.7,561.2 C663.9,559.4 670.2,557.4 676.5,556.0 C682.8,554.6 689.1,553.6 695.3,552.8 C701.6,551.9 703.2,551.7 714.2,550.9 C725.1,550.1 743.6,549.4 761.2,548.1 C778.9,546.7 802.1,544.2 820.0,542.8 C837.9,541.4 851.7,540.6 868.4,539.6 C885.1,538.6 907.7,537.7 920.0,536.9 C932.3,536.2 931.6,535.7 942.4,534.9 C953.2,534.2 970.6,533.1 984.7,532.4 C998.9,531.6 1013.0,530.8 1027.1,530.3 C1041.2,529.7 1055.4,529.4 1069.5,528.8 C1083.6,528.3 1097.7,527.7 1111.9,527.0 C1126.0,526.3 1142.9,525.2 1154.2,524.6 C1165.6,524.0 1168.6,524.2 1180.0,523.4 C1191.4,522.6 1208.2,520.6 1222.4,519.7 C1236.5,518.8 1250.6,518.5 1264.7,518.0 C1278.9,517.5 1293.0,517.1 1307.1,516.6 C1321.2,516.1 1335.4,515.7 1349.5,515.2 C1363.6,514.7 1377.7,514.1 1391.9,513.5 C1406.0,512.9 1422.6,512.3 1434.2,511.7 C1445.9,511.1 1457.2,510.1 1461.8,509.8" stroke="#0000ff" stroke-width="7.7"/>
<path d="M1470.1,728.0 C1469.4,726.7 1467.5,722.2 1466.4,720.1 C1465.3,718.0 1466.1,716.0 1463.6,715.3 C1461.0,714.6 1460.0,715.3 1450.8,715.9 C1441.7,716.4 1425.0,717.5 1408.5,718.7 C1392.0,719.9 1369.9,721.4 1352.0,722.9 C1334.1,724.5 1312.0,726.7 1301.1,728.0 C1290.3,729.3 1291.0,729.3 1287.0,730.8 C1283.0,732.4 1279.9,733.9 1277.1,737.1 C1274.3,740.2 1272.2,745.5 1270.1,749.8 C1267.9,754.0 1266.5,759.4 1264.4,762.5 C1262.3,765.5 1259.7,767.4 1257.3,768.1 C1255.0,768.8 1253.3,767.9 1250.3,766.7 C1247.2,765.5 1243.2,763.0 1239.0,761.1 C1234.7,759.2 1230.0,756.8 1224.9,755.4 C1219.7,754.0 1215.0,753.2 1207.9,752.6 C1200.8,752.0 1191.4,751.8 1182.5,751.8 C1173.5,751.8 1162.2,752.2 1154.2,752.6 C1146.2,753.0 1141.1,753.1 1134.5,754.0 C1127.9,755.0 1120.3,756.6 1114.7,758.2 C1109.0,759.9 1104.3,761.5 1100.6,763.9 C1096.8,766.3 1095.2,769.1 1092.1,772.4 C1089.0,775.7 1085.0,781.2 1082.2,783.7 C1079.4,786.2 1078.2,787.3 1075.1,787.3 C1072.1,787.3 1068.5,785.2 1063.8,783.7 C1059.1,782.1 1053.0,779.8 1046.9,778.0 C1040.8,776.3 1033.7,774.4 1027.1,773.2 C1020.5,772.0 1028.5,771.3 1007.3,771.0 C986.2,770.6 919.4,770.9 900.0,771.0 C880.6,771.0 896.9,771.7 891.0,771.4 C885.1,771.2 876.2,769.9 864.6,769.5 C853.0,769.1 831.7,768.8 821.3,769.0 C811.0,769.1 808.1,769.4 802.5,770.5 C796.8,771.5 792.1,773.0 787.4,775.2 C782.7,777.4 777.7,780.7 774.2,783.7 C770.8,786.6 769.2,790.4 766.7,793.1 C764.2,795.7 762.6,798.2 759.2,799.7 C755.7,801.1 749.8,800.8 746.0,801.5 C742.2,802.3 739.4,802.6 736.6,804.4 C733.7,806.1 731.2,808.8 729.0,811.9 C726.8,815.0 725.3,818.3 723.4,823.2 C721.4,828.1 719.4,834.0 717.3,841.4 C715.2,848.9 712.7,858.4 710.7,867.8 C708.7,877.2 706.9,887.3 705.0,897.9 C703.2,908.6 701.1,919.9 699.4,931.8 C697.7,943.8 696.3,956.9 694.7,969.5 C693.1,982.0 691.6,994.6 690.0,1007.2 C688.4,1019.7 686.7,1032.3 685.3,1044.8 C683.9,1057.4 682.9,1067.0 681.5,1082.5 C680.1,1098.0 678.2,1122.2 676.8,1137.7 C675.4,1153.1 674.1,1162.8 673.0,1175.3 C671.9,1187.9 671.1,1200.4 670.2,1213.0 C669.3,1225.5 668.3,1238.1 667.4,1250.7 C666.4,1263.2 665.5,1275.8 664.6,1288.3 C663.6,1300.9 662.5,1313.4 661.7,1326.0 C660.9,1338.5 660.6,1351.3 659.8,1363.7 C659.1,1376.0 658.0,1387.7 657.0,1400.0 C656.1,1412.3 655.1,1425.1 654.2,1437.7 C653.3,1450.2 652.3,1462.8 651.4,1475.3 C650.4,1487.9 649.5,1500.4 648.5,1513.0 C647.6,1525.5 646.8,1538.1 645.7,1550.7 C644.6,1563.2 643.2,1578.6 642.0,1588.3 C640.7,1598.1 639.3,1604.3 638.2,1609.0 C637.1,1613.7 636.3,1616.9 635.4,1616.6 C634.4,1616.3 633.3,1611.9 632.5,1607.2 C631.8,1602.4 631.3,1596.2 630.7,1588.3 C630.0,1580.5 629.4,1571.1 628.8,1560.1 C628.1,1549.1 627.7,1536.5 626.9,1522.4 C626.1,1508.3 624.9,1491.0 624.1,1475.3 C623.3,1459.6 622.6,1437.5 622.2,1428.2 C621.8,1419.0 621.8,1424.5 621.6,1420.0 C621.4,1415.5 621.2,1407.6 620.9,1401.3 C620.6,1395.1 620.1,1388.8 619.7,1382.5 C619.3,1376.2 619.0,1369.0 618.4,1363.7 C617.9,1358.3 617.3,1353.4 616.5,1350.5 C615.8,1347.6 614.5,1346.5 613.7,1346.3 C612.9,1346.2 612.6,1347.3 611.8,1349.5 C611.0,1351.8 610.1,1355.0 609.0,1359.9 C607.9,1364.8 606.5,1372.4 605.2,1378.7 C604.0,1385.0 603.2,1387.7 601.5,1397.6 C599.7,1407.4 596.8,1424.7 594.9,1437.7 C593.0,1450.6 591.6,1462.8 590.2,1475.3 C588.8,1487.9 587.7,1500.4 586.4,1513.0 C585.1,1525.5 583.7,1538.1 582.6,1550.7 C581.5,1563.2 580.8,1575.8 579.8,1588.3 C578.9,1600.9 577.9,1613.4 577.0,1626.0 C576.0,1638.5 575.0,1652.8 574.2,1663.7 C573.3,1674.5 572.7,1678.4 571.7,1691.0 C570.8,1703.5 569.0,1731.0 568.5,1739.0" stroke="#0000ff" stroke-width="7.7"/>
<path d="M560.6,1739.0 C560.9,1731.0 561.8,1703.5 562.3,1691.0 C562.8,1678.4 563.0,1674.5 563.4,1663.7 C563.8,1652.8 564.3,1638.5 564.7,1626.0 C565.2,1613.4 565.6,1600.9 566.3,1588.3 C566.9,1575.8 567.8,1563.2 568.5,1550.7 C569.3,1538.1 570.0,1525.5 570.8,1513.0 C571.6,1500.4 572.3,1487.9 573.2,1475.3 C574.1,1462.8 575.1,1450.2 576.0,1437.7 C577.0,1425.1 577.6,1418.6 578.9,1400.0 C580.1,1381.4 582.3,1344.6 583.6,1326.0 C584.8,1307.4 585.5,1300.9 586.4,1288.3 C587.3,1275.8 588.1,1263.2 589.2,1250.7 C590.3,1238.1 591.7,1225.5 593.0,1213.0 C594.2,1200.4 595.3,1187.9 596.8,1175.3 C598.2,1162.8 599.9,1150.2 601.5,1137.7 C603.0,1125.1 604.1,1114.5 606.2,1100.0 C608.2,1085.5 611.5,1064.4 613.7,1050.5 C615.9,1036.6 617.8,1026.3 619.4,1016.6 C621.0,1006.8 621.7,1000.2 623.3,991.9 C624.9,983.5 627.1,975.2 629.0,966.4 C630.9,957.7 632.7,948.3 634.6,939.6 C636.5,930.9 638.2,923.1 640.3,914.2 C642.4,905.2 644.8,895.1 647.3,885.9 C649.9,876.8 653.0,867.8 655.8,859.1 C658.6,850.4 661.2,842.9 664.3,833.7 C667.4,824.5 670.9,813.0 674.2,804.0 C677.5,795.1 679.8,789.1 684.1,780.0 C688.3,770.9 694.9,756.4 699.6,749.4 C704.3,742.5 707.1,741.7 712.3,738.1 C717.5,734.6 724.1,730.7 730.7,728.2 C737.3,725.8 743.6,724.7 751.9,723.3 C760.1,721.9 770.7,720.6 780.1,719.8 C789.5,718.9 798.4,718.6 808.4,718.1 C818.3,717.6 824.7,717.0 840.0,716.7 C855.3,716.4 882.9,716.6 900.0,716.2 C917.1,715.8 928.2,714.9 942.4,714.4 C956.5,713.8 970.6,713.4 984.7,713.0 C998.9,712.5 1013.0,712.3 1027.1,711.6 C1041.2,710.8 1055.4,709.6 1069.5,708.7 C1083.6,707.9 1097.7,707.2 1111.9,706.6 C1126.0,706.0 1139.4,705.6 1154.2,705.2 C1169.1,704.8 1187.5,705.2 1201.2,704.5 C1214.9,703.8 1223.5,702.4 1236.5,701.0 C1249.4,699.5 1264.7,697.4 1278.9,696.0 C1293.0,694.6 1307.1,693.7 1321.2,692.5 C1335.4,691.3 1350.7,689.8 1363.6,689.0 C1376.6,688.1 1390.0,687.4 1398.9,687.1 C1407.9,686.9 1413.3,687.2 1417.3,687.5 C1421.3,687.8 1414.2,688.7 1422.9,689.0 C1431.6,689.2 1461.8,689.0 1469.5,689.0" stroke="#0000ff" stroke-width="7.7"/>
</g>
<g font-size="89" text-anchor="end">
<text x="370.3" y="126.3">20.0</text>
<text x="370.3" y="303.0">0.0</text>
<text x="370.3" y="479.6">-<tspan dx="-2.5">20.0</tspan></text>
<text x="370.3" y="656.3">-<tspan dx="-2.5">40.0</tspan></text>
<text x="370.3" y="833.0">-<tspan dx="-2.5">60.0</tspan></text>
<text x="370.3" y="1009.6">-<tspan dx="-2.5">80.0</tspan></text>
<text x="370.3" y="1186.3">-<tspan dx="-2.5">100.0</tspan></text>
<text x="370.3" y="1363.0">-<tspan dx="-2.5">120.0</tspan></text>
<text x="370.3" y="1539.7">-<tspan dx="-2.5">140.0</tspan></text>
<text x="370.3" y="1716.3">-<tspan dx="-2.5">160.0</tspan></text>
</g>
<g font-size="89" text-anchor="middle">
<text x="444.0" y="1819.3">-<tspan dx="-2">3.4</tspan></text>
<text x="649.2" y="1819.3">-<tspan dx="-2">2.8</tspan></text>
<text x="854.4" y="1819.3">-<tspan dx="-2">2.2</tspan></text>
<text x="1059.7" y="1819.3">-<tspan dx="-2">1.6</tspan></text>
<text x="1264.9" y="1819.3">-<tspan dx="-2">1</tspan></text>
<text x="1470.1" y="1819.3">-<tspan dx="-2">0.4</tspan></text>
<text x="1675.3" y="1819.3">0.2</text>
<text x="1880.6" y="1819.3">0.8</text>
<text x="2085.8" y="1819.3">1.4</text>
<text x="2291.0" y="1819.3">2</text>
</g>
<text x="922" y="1954" font-size="98"><tspan font-weight="bold" font-style="italic">E vs</tspan> Fc<tspan font-size="65" dy="-31">+</tspan><tspan dy="31">|Fc / (V)</tspan></text>
<text transform="translate(116.5,1457) rotate(-90)" font-size="98" letter-spacing="-0.4"><tspan font-weight="bold" font-style="italic" letter-spacing="0">j / cv<tspan font-size="80" dx="4" dy="-13">^</tspan><tspan dx="5" dy="13">0.5</tspan></tspan> / (Acm<tspan font-size="66" dy="-28">-1</tspan><tspan dy="28">mol</tspan><tspan font-size="66" dy="-28">-1</tspan><tspan dy="28">dm</tspan><tspan font-size="66" dy="-28">3</tspan><tspan dy="28">V</tspan><tspan font-size="66" dx="-7" dy="-28">-1</tspan><tspan dy="28">s)</tspan></text>
<g font-size="120" font-weight="bold">
<text x="2296.5" y="209.8">4</text>
<text x="2296.5" y="450.8">9</text>
<text x="2296" y="690.8">10</text>
</g>
</svg></body></html>
